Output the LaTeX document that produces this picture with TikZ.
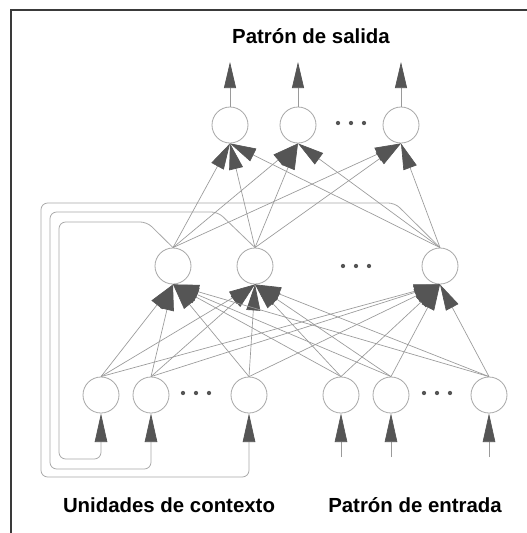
\documentclass[tikz,border=0pt]{standalone}
\usepackage{fontspec}
\setmainfont{Liberation Sans}
\usetikzlibrary{arrows.meta}
\definecolor{tipc}{HTML}{555555}
\definecolor{linec}{HTML}{9A9A9A}
\definecolor{circc}{HTML}{A8A8A8}
\definecolor{framec}{HTML}{3A3A3A}
\begin{document}
\begin{tikzpicture}[x=0.75pt,y=-0.75pt,
  unit/.style={circle,draw=circc,fill=white,line width=0.6pt,minimum size=27pt,inner sep=0pt},
  conn/.style={draw=linec,line width=0.5pt},
  bigtip/.style={-{Triangle[length=19.5pt,width=10.5pt,color=tipc]}},
  intip/.style={-{Triangle[length=21.5pt,width=9.4pt,color=tipc]}},
  outtip/.style={-{Triangle[length=19.5pt,width=9pt,color=tipc]}},
  loop/.style={draw=circc,line width=0.6pt,rounded corners=5pt},
  dot/.style={circle,fill=tipc,inner sep=0pt,minimum size=3.2pt},
  lab/.style={font=\bfseries\fontsize{15.3pt}{18pt}\selectfont,anchor=base,inner sep=0pt}]
\useasboundingbox (0,0) rectangle (527,533);
\fill[white] (0,0) rectangle (527,533);
% frame
\draw[framec,line width=1.1pt] (11,545) -- (11,10) -- (545,10);
% titles
\node[lab] (tout) at (311,43) {Patrón de salida};
\node[lab] (tctx) at (169,512) {Unidades de contexto};
\node[lab] (tin) at (415,512) {Patrón de entrada};
% units
\node[unit] (o1) at (230,125) {};
\node[unit] (o2) at (298,125) {};
\node[unit] (o3) at (401,125) {};
\node[unit] (h1) at (173,266) {};
\node[unit] (h2) at (255,266) {};
\node[unit] (h3) at (440,266) {};
\node[unit] (c1) at (101,395) {};
\node[unit] (c2) at (151,395) {};
\node[unit] (c3) at (249,395) {};
\node[unit] (p1) at (341,395) {};
\node[unit] (p2) at (391,395) {};
\node[unit] (p3) at (489,395) {};
% ellipsis dots
\foreach \x in {338,351,364} \node[dot] at (\x,123) {};
\foreach \x in {343,356,369} \node[dot] at (\x,266) {};
\foreach \x in {183,196,209} \node[dot] at (\x,393) {};
\foreach \x in {424,437,450} \node[dot] at (\x,393) {};
% context loops
\draw[loop,intip] (h1.north) -- (147,222) -- (59,222) -- (59,459) -- (c1 |- 0,459) -- (c1.south);
\draw[loop,intip] (h2.north) -- (218,212) -- (50,212) -- (50,469) -- (c2 |- 0,469) -- (c2.south);
\draw[loop,intip] (h3.north) -- (395,203) -- (41,203) -- (41,477) -- (c3 |- 0,477) -- (c3.south);
% input pattern stems
\foreach \p in {p1,p2,p3} \draw[conn,intip] (\p |- 0,457) -- (\p.south);
% input -> hidden
\foreach \i in {c1,c2,c3,p1,p2,p3}
  \foreach \j in {h1,h2,h3}
    \draw[conn,bigtip] (\i.north) -- (\j.south);
% hidden -> output
\foreach \i in {h1,h2,h3}
  \foreach \j in {o1,o2,o3}
    \draw[conn,bigtip] (\i.north) -- (\j.south);
% output stems
\foreach \o in {o1,o2,o3} \draw[conn,outtip] (\o.north) -- (\o |- 0,62);
\end{tikzpicture}
\end{document}
